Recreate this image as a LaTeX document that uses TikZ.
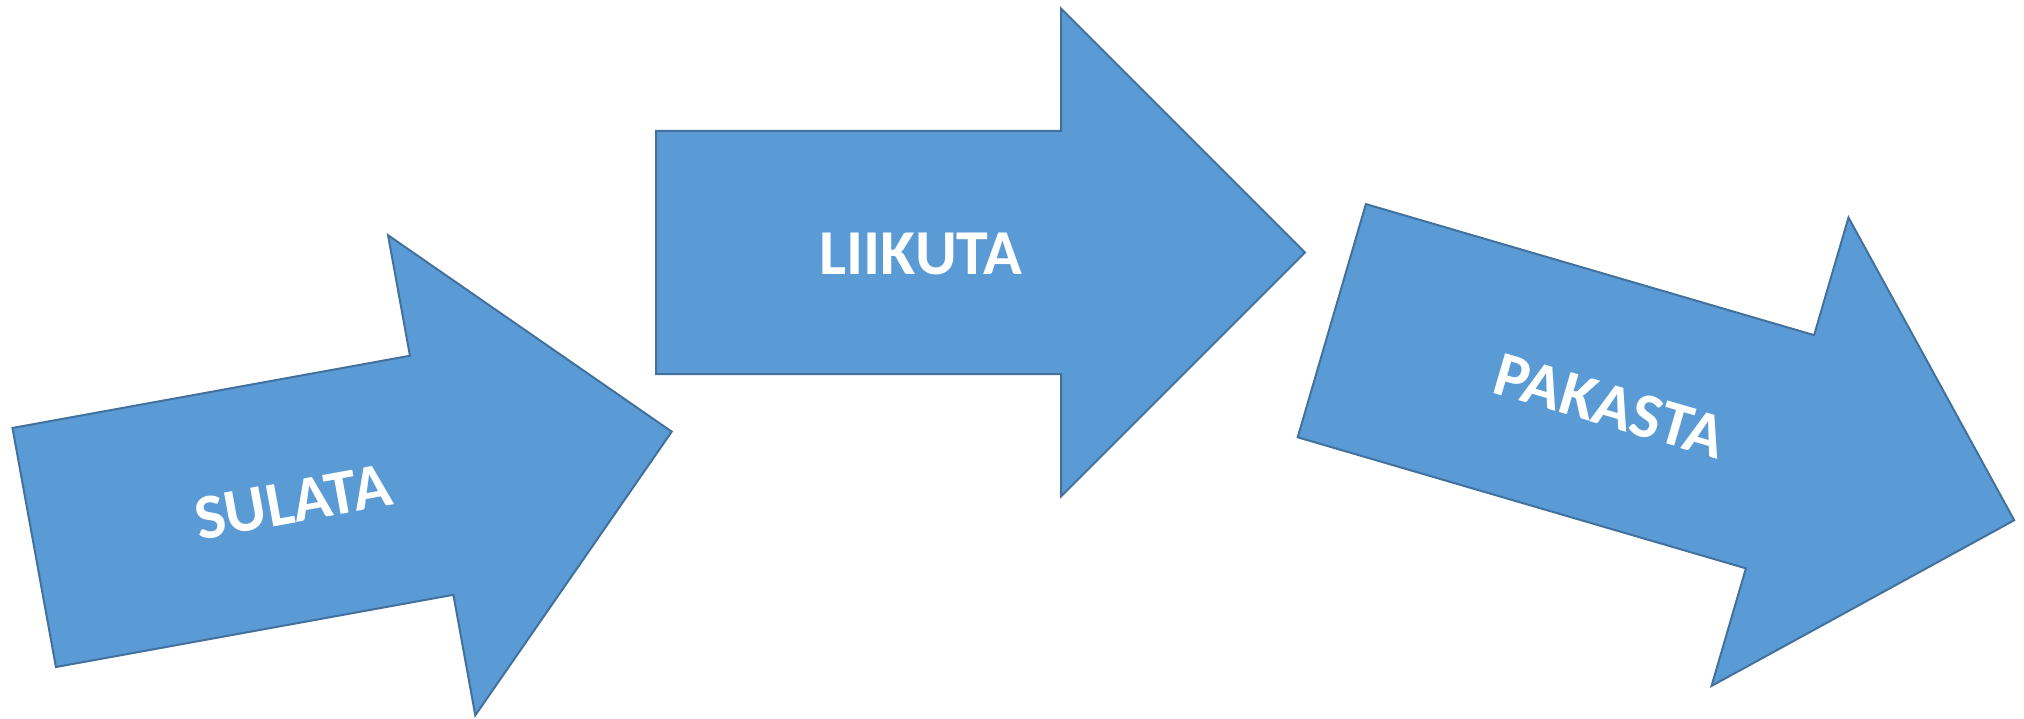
\documentclass[tikz,border=0pt]{standalone}
\usepackage{fontspec}
\setmainfont{Carlito}
\definecolor{arrowfill}{HTML}{5B9BD5}
\definecolor{arrowline}{HTML}{41719C}
\begin{document}
\begin{tikzpicture}[x=1pt,y=-1pt,
  arrowbody/.style={fill=arrowfill, draw=arrowline, line width=2pt, line join=miter},
  arrowlabel/.style={text=white, font=\fontsize{64}{76}\selectfont\bfseries, inner sep=0pt}]
\useasboundingbox (0,0) rectangle (2024,719);
\fill[white] (0,0) rectangle (2024,719);
% SULATA arrow
\begin{scope}[shift={(34.2,547.5)}, rotate=10.3]
  \draw[arrowbody] (0,-121.5) -- (404,-121.5) -- (404,-244) -- (648,0) -- (404,244) -- (404,121.5) -- (0,121.5) -- cycle;
\end{scope}
% LIIKUTA arrow
\begin{scope}[shift={(656,252.5)}]
  \draw[arrowbody] (0,-121.5) -- (405,-121.5) -- (405,-244) -- (649,0) -- (405,244) -- (405,121.5) -- (0,121.5) -- cycle;
\end{scope}
% PAKASTA arrow
\begin{scope}[shift={(1331.8,320.7)}, rotate=-16.3]
  \draw[arrowbody] (0,-121.5) -- (467,-121.5) -- (467,-244) -- (711,0) -- (467,244) -- (467,121.5) -- (0,121.5) -- cycle;
\end{scope}
\node[arrowlabel, rotate=10.3] (sulata) at (293,502) {SULATA};
\node[arrowlabel] (liikuta) at (921,254) {LIIKUTA};
\node[arrowlabel, rotate=-16.3] (pakasta) at (1610,406) {PAKASTA};
\end{tikzpicture}
\end{document}
